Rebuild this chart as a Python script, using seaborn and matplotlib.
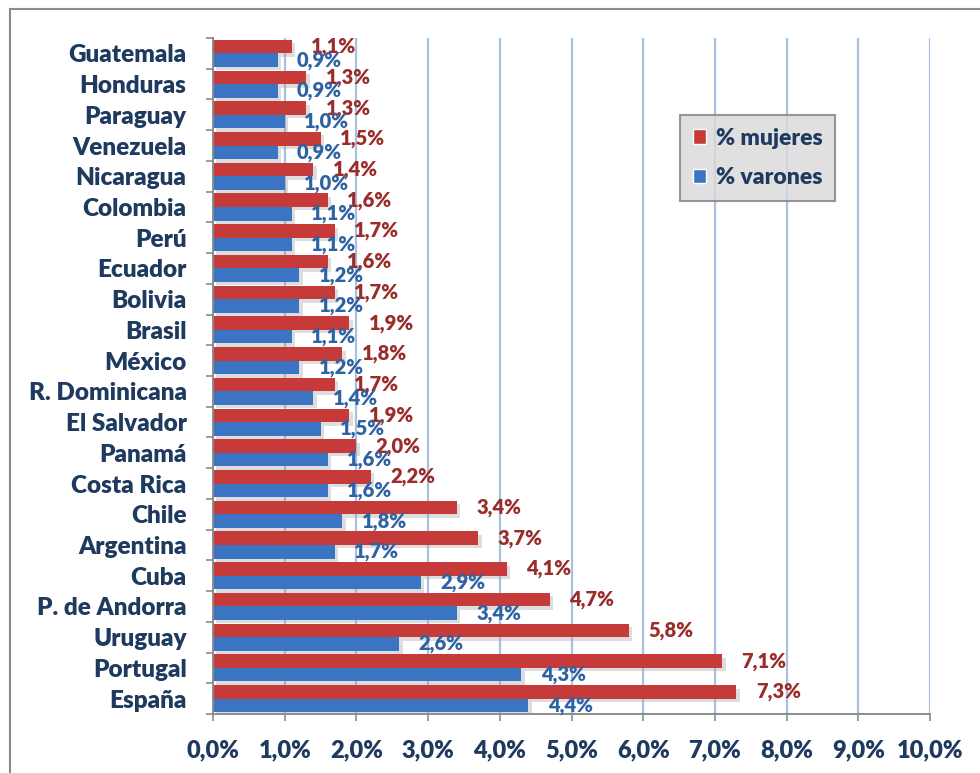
import matplotlib
matplotlib.use("Agg")
import matplotlib.pyplot as plt
import matplotlib.patheffects as pe
from matplotlib.patches import Rectangle
from matplotlib.ticker import FixedLocator
import seaborn as sns
import pandas as pd

paises = ["Guatemala", "Honduras", "Paraguay", "Venezuela", "Nicaragua", "Colombia",
          "Perú", "Ecuador", "Bolivia", "Brasil", "México", "R. Dominicana",
          "El Salvador", "Panamá", "Costa Rica", "Chile", "Argentina", "Cuba",
          "P. de Andorra", "Uruguay", "Portugal", "España"]
mujeres = [1.1, 1.3, 1.3, 1.5, 1.4, 1.6, 1.7, 1.6, 1.7, 1.9, 1.8, 1.7,
           1.9, 2.0, 2.2, 3.4, 3.7, 4.1, 4.7, 5.8, 7.1, 7.3]
varones = [0.9, 0.9, 1.0, 0.9, 1.0, 1.1, 1.1, 1.2, 1.2, 1.1, 1.2, 1.4,
           1.5, 1.6, 1.6, 1.8, 1.7, 2.9, 3.4, 2.6, 4.3, 4.4]
series = ["% mujeres", "% varones"]
x_ticks = [0, 1, 2, 3, 4, 5, 6, 7, 8, 9, 10]

df = pd.DataFrame({
    "pais": paises * 2,
    "valor": mujeres + varones,
    "serie": [series[0]] * len(paises) + [series[1]] * len(paises),
})

NAVY = "#1f3a5f"
RED = "#c63a3a"
BLUE = "#3a74c2"
RED_TXT = "#9a2c2a"
BLUE_TXT = "#2f62a3"
FONT = "Lato"
W = "heavy"

sns.set_theme(style="white")
plt.rcParams["font.family"] = [FONT, "DejaVu Sans"]

fig = plt.figure(figsize=(9.8, 7.73), dpi=100)
ax = fig.add_axes([213 / 980, 1 - 714 / 773, (930 - 213) / 980, (714 - 38) / 773])

sns.barplot(data=df, y="pais", x="valor", hue="serie", order=paises,
            hue_order=series, palette=[RED, BLUE], orient="h",
            width=0.88, saturation=1, ax=ax, legend=True)

shadow = [pe.SimplePatchShadow(offset=(2.5, -2.5), shadow_rgbFace="#a0a0a0", alpha=0.35),
          pe.Normal()]
for cont, vals, col in zip(ax.containers, [mujeres, varones], [RED_TXT, BLUE_TXT]):
    for bar in cont:
        bar.set_edgecolor("none")
        bar.set_path_effects(shadow)
    labels = [f"{v:.1f}%".replace(".", ",") for v in vals]
    ax.bar_label(cont, labels=labels, padding=14, color=col, fontsize=14.5,
                 fontweight=W, family=FONT)

ax.set_xlim(0, 10)
ax.set_ylim(len(paises) - 0.5, -0.5)
ax.set_xlabel("")
ax.set_ylabel("")

# vertical gridlines
for v in x_ticks[1:]:
    ax.axvline(v, color="#a9c0e0", lw=1.6, zorder=0)

ax.xaxis.set_major_locator(FixedLocator(x_ticks))
ax.set_xticklabels([f"{v:.1f}%".replace(".", ",") for v in x_ticks])
ax.tick_params(axis="x", which="major", direction="out", length=5, width=1.2,
               color="#8c8c8c", pad=13, labelsize=17, labelcolor=NAVY, bottom=True)
for t in ax.get_xticklabels():
    t.set_fontweight(W)

ax.yaxis.set_minor_locator(FixedLocator([i - 0.5 for i in range(len(paises) + 1)]))
ax.tick_params(axis="y", which="major", length=0, pad=19, labelsize=17.5,
               labelcolor=NAVY, left=False)
ax.tick_params(axis="y", which="minor", direction="out", length=5, width=1.2,
               color="#8c8c8c", left=True)
for t in ax.get_yticklabels():
    t.set_fontweight(W)

for s in ["top", "right"]:
    ax.spines[s].set_visible(False)
for s in ["left", "bottom"]:
    ax.spines[s].set_color("#8c8c8c")
    ax.spines[s].set_linewidth(1.4)

leg = ax.legend(loc="upper left", bbox_to_anchor=((680 - 213) / 717, (714 - 115) / 676),
                frameon=True, fancybox=False, handlelength=0.6,
                handleheight=0.6, handletextpad=0.4, labelspacing=0.8,
                borderpad=0.55, borderaxespad=0,
                prop={"family": FONT, "weight": W, "size": 16.5})
leg.get_frame().set_facecolor("#d9d9d9")
leg.get_frame().set_edgecolor("#7f7f7f")
leg.get_frame().set_linewidth(1.5)
for txt in leg.get_texts():
    txt.set_color(NAVY)

# chart-area border
fig.patches.append(Rectangle((10 / 980, -0.05), 1.05, 1 - 9 / 773 + 0.05,
                             transform=fig.transFigure, fill=False,
                             edgecolor="#8a8a8a", lw=1.5, clip_on=True))

fig.savefig("out.png", dpi=100)
